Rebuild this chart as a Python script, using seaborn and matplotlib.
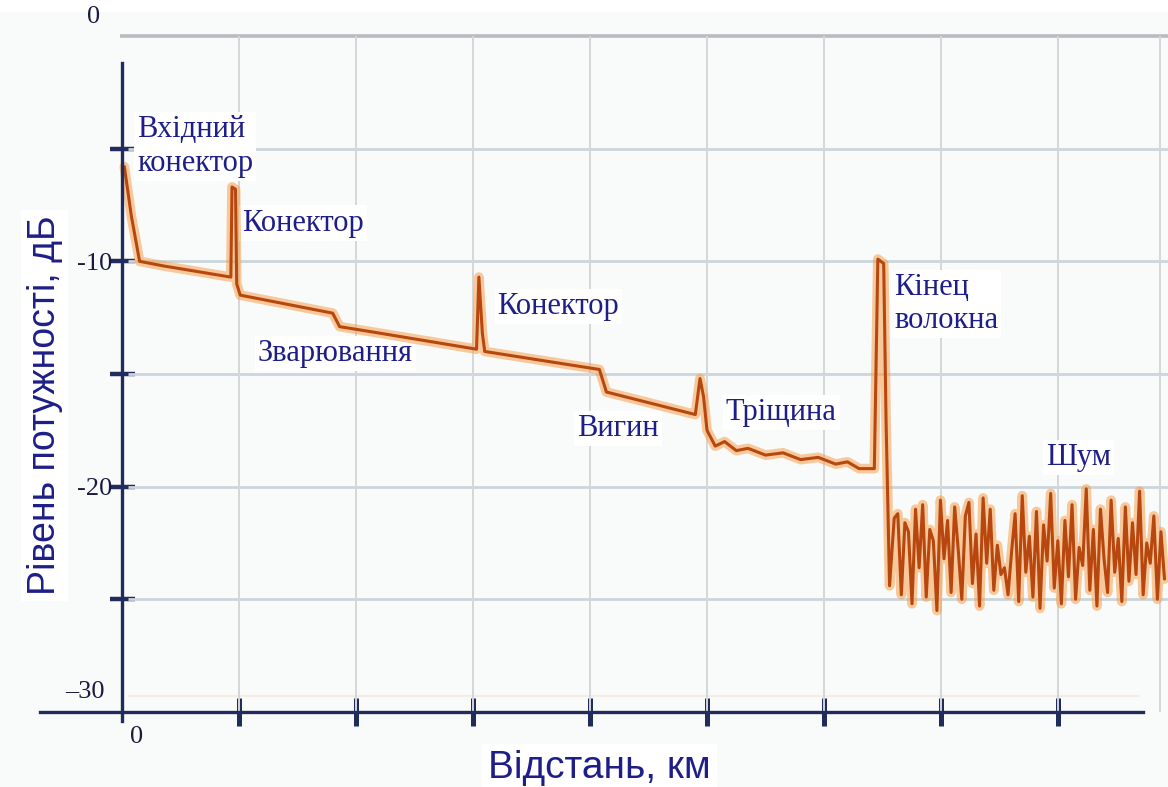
import numpy as np
import pandas as pd
import matplotlib
matplotlib.use("Agg")
import matplotlib.pyplot as plt
from matplotlib.patches import Rectangle
import seaborn as sns

# Reflectogram: distance (km) and backscatter level (dB)
trace_km = [0.02, 0.08, 0.15, 0.35, 0.93, 0.94, 0.97, 0.98, 1.01, 1.80, 1.86, 2.10,
            3.03, 3.05, 3.08, 3.10, 4.08, 4.14, 4.90, 4.94, 4.97, 5.00, 5.07,
            5.15, 5.25, 5.35, 5.50, 5.65, 5.80, 5.95, 6.10, 6.20, 6.30, 6.43,
            6.46, 6.51, 6.53, 6.56]
trace_db = [-5.8, -8.0, -10.0, -10.2, -10.7, -6.7, -6.8, -11.0, -11.5, -12.3, -12.9, -13.1,
            -13.9, -10.7, -13.2, -14.0, -14.8, -15.8, -16.8, -15.2, -16.0, -17.5, -18.2,
            -18.0, -18.4, -18.3, -18.6, -18.5, -18.8, -18.7, -19.0, -18.9, -19.2, -19.2,
            -9.9, -10.1, -17.0, -24.4]

# Noise floor after the fibre end
noise_db = [-21.4, -21.2, -24.8, -21.6, -22.0, -25.2, -21.0, -23.6, -20.8, -24.9,
            -21.9, -22.4, -25.5, -20.6, -23.2, -21.5, -24.7, -20.9, -22.8, -25.0,
            -21.3, -20.7, -24.3, -22.1, -25.3, -20.5, -23.4, -21.0, -24.6, -22.6,
            -23.9, -23.6, -24.8, -22.9, -21.2, -25.1, -20.4, -23.8, -22.2, -24.9,
            -21.1, -25.4, -21.7, -23.3, -20.3, -24.5, -22.4, -25.2, -21.5, -24.0,
            -20.8, -25.0, -22.7, -23.5, -20.1, -24.6, -21.9, -25.3, -21.0, -23.2,
            -24.7, -20.6, -23.8, -22.3, -25.1, -20.9, -24.2, -21.6, -23.9, -20.2,
            -24.8, -22.5, -23.4, -21.3, -25.0, -22.0, -24.1]
noise_km = np.linspace(6.60, 8.91, len(noise_db))

events = ["Вхідний\nконектор", "Конектор", "Зварювання", "Конектор", "Вигин",
          "Тріщина", "Кінец\nволокна", "Шум"]
event_km = [0.13, 1.03, 1.16, 3.21, 3.89, 5.16, 6.60, 7.90]
event_db = [-4.9, -8.3, -14.1, -12.0, -17.4, -16.7, -11.9, -18.7]

y_major = [-10, -20]
y_minor = [-5, -15, -25]
x_ticks = [1, 2, 3, 4, 5, 6, 7, 8]

df = pd.DataFrame({"km": list(trace_km) + list(noise_km),
                   "db": list(trace_db) + list(noise_db)})

sns.set_theme(style="white")
plt.rcParams["font.family"] = ["Liberation Serif", "DejaVu Serif"]

NAVY = "#1f2c5c"
TXT = "#1e1e88"

fig = plt.figure(figsize=(11.68, 7.87), dpi=100)
ax = fig.add_axes([0, 0, 1, 1])
ax.set_xlim(-1.043, 8.940)
ax.set_ylim(-33.33, 1.598)
ax.set_facecolor("white")

# faint panel background
ax.add_patch(Rectangle((-1.043, -33.33), 10.0, 34.4, color="#f9fafa", zorder=0, lw=0))

# grid
ax.hlines(0, -0.02, 8.94, color="#b9bcbf", lw=2.6, zorder=1)
for yv in [-5, -10, -15, -20, -25]:
    ax.hlines(yv, 0.05, 8.94, color="#ccd5db", lw=2.0, zorder=1)
ax.hlines(-29.3, 0.05, 8.7, color="#f6ece2", lw=1.5, zorder=1)
for xv in x_ticks + [8.87]:
    ax.vlines(xv, -30, 0, color="#d4d7da", lw=1.4, zorder=1)

# trace: soft halo plus darker core
sns.lineplot(data=df, x="km", y="db", sort=False, estimator=None, ax=ax,
             color="#f4a04c", lw=7, alpha=0.55, zorder=3)
sns.lineplot(data=df, x="km", y="db", sort=False, estimator=None, ax=ax,
             color="#b8470f", lw=2.2, zorder=4)

# axes lines through the origin
ax.spines["left"].set_position(("data", 0))
ax.spines["bottom"].set_position(("data", -30))
ax.spines["left"].set_bounds(-30.4, -1.2)
ax.spines["bottom"].set_bounds(-0.70, 8.73)
for s in ["left", "bottom"]:
    ax.spines[s].set_color(NAVY)
    ax.spines[s].set_linewidth(2.4)
    ax.spines[s].set_zorder(5)
for s in ["top", "right"]:
    ax.spines[s].set_visible(False)

ax.set_yticks(y_major)
ax.set_yticklabels([str(v) for v in y_major])
ax.set_yticks(y_minor, minor=True)
ax.set_xticks(x_ticks)
ax.set_xticklabels([])
ax.tick_params(axis="y", which="both", direction="inout", length=18, width=3.2,
               color=NAVY, labelsize=19, labelcolor="#1a1a40", pad=-2, left=True)
ax.tick_params(axis="x", which="both", direction="inout", length=20, width=3.6,
               color=NAVY, bottom=True)
ax.tick_params(axis="y", which="minor", left=True)

# end-point labels of the scales
ax.text(-0.24, 0.85, "0", fontsize=19, color="#1a1a40", ha="center", va="center")
ax.text(-0.32, -29.1, "–30", fontsize=19, color="#1a1a40", ha="center", va="center")
ax.text(0.12, -31.1, "0", fontsize=19, color="#1a1a40", ha="center", va="center")

# event labels (under the trace so the line stays visible)
for label, xk, yd in zip(events, event_km, event_db):
    ax.text(xk, yd, label, fontsize=22, color=TXT, ha="left", va="center",
            linespacing=1.2,
            bbox=dict(boxstyle="square,pad=0.1", fc="white", ec="none"), zorder=2)

# axis titles
ax.text(-0.66, -16.4, "Рівень потужності, дБ", rotation=90, ha="center", va="center",
        fontsize=27, color=TXT, family=["Liberation Sans", "DejaVu Sans"],
        bbox=dict(boxstyle="square,pad=0.15", fc="white", ec="none"), zorder=6)
ax.text(4.08, -32.5, "Відстань, км", ha="center", va="center",
        fontsize=28, color=TXT, family=["Liberation Sans", "DejaVu Sans"],
        bbox=dict(boxstyle="square,pad=0.15", fc="white", ec="none"), zorder=6)

ax.set_xlabel("")
ax.set_ylabel("")
fig.savefig("out.png", dpi=100)
